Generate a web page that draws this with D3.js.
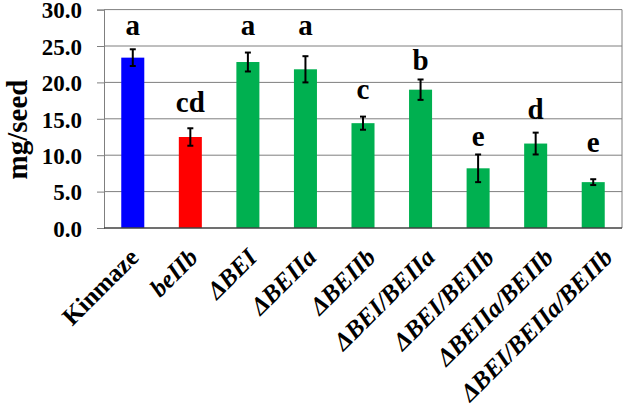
<!DOCTYPE html>
<html>
<head>
<meta charset="utf-8">
<script src="https://cdn.jsdelivr.net/npm/d3@7"></script>
<style>
  body { margin: 0; background: #fff; }
  svg text { font-family: "Liberation Serif" !important; font-weight: bold; }
</style>
</head>
<body>
<script>
var names = ["Kinmaze", "beIIb", "\u0394BEI", "\u0394BEIIa", "\u0394BEIIb", "\u0394BEI/BEIIa",
             "\u0394BEI/BEIIb", "\u0394BEIIa/BEIIb", "\u0394BEI/BEIIa/BEIIb"];
var values = [23.4, 12.5, 22.8, 21.8, 14.4, 19.0, 8.2, 11.6, 6.3];
var errors = [1.15, 1.2, 1.3, 1.8, 0.9, 1.4, 1.9, 1.5, 0.4];
var letters = ["a", "cd", "a", "a", "c", "b", "e", "d", "e"];
var letterAt = [26.5, 15.9, 26.5, 26.5, 17.7, 21.7, 11.2, 15.0, 10.5];
var colors = ["#0000ff", "#ff0000", "#00b050", "#00b050", "#00b050", "#00b050", "#00b050", "#00b050", "#00b050"];
var yTicks = [0, 5, 10, 15, 20, 25, 30];

var w = 626;
var h = 417;
var plotLeft = 104, plotRight = 622, plotTop = 9.6, plotBottom = 228;

var svg = d3.select("body").append("svg")
	.attr("width", w)
	.attr("height", h)
	.style("font-family", "Liberation Serif");

var xScale = d3.scaleBand()
	.domain(names)
	.range([plotLeft, plotRight])
	.paddingInner(0.6)
	.paddingOuter(0.3);

var yScale = d3.scaleLinear()
	.domain([0, 30])
	.range([plotBottom, plotTop]);

// label ends drift a bit right of the bar centres
var labelScale = d3.scalePoint()
	.domain(names)
	.range([140, 614]);

// gridlines
svg.append("g")
	.selectAll("line")
	.data(yTicks.slice(1))
	.enter()
	.append("line")
	.attr("x1", plotLeft)
	.attr("x2", plotRight)
	.attr("y1", function(d) { return yScale(d) })
	.attr("y2", function(d) { return yScale(d) })
	.attr("stroke", "#7f7f7f")
	.attr("stroke-width", 1);

// right border
svg.append("line")
	.attr("x1", plotRight).attr("x2", plotRight)
	.attr("y1", yScale(30)).attr("y2", yScale(0))
	.attr("stroke", "#7f7f7f");

// y axis
var yAxis = d3.axisLeft(yScale)
	.tickValues(yTicks)
	.tickSize(7)
	.tickPadding(15)
	.tickFormat(d3.format(".1f"));

var yg = svg.append("g")
	.attr("transform", "translate(" + plotLeft + ",0)")
	.call(yAxis);
yg.attr("font-family", null);
yg.select(".domain").attr("stroke", "#7f7f7f");
yg.selectAll(".tick line").attr("stroke", "#7f7f7f");
yg.selectAll(".tick text")
	.attr("fill", "#000")
	.attr("font-size", 23)
	.attr("dy", "0.36em");

// bars
svg.selectAll("rect.bar")
	.data(values)
	.enter()
	.append("rect")
	.attr("class", "bar")
	.attr("x", function(d, i) { return xScale(names[i]) })
	.attr("width", xScale.bandwidth())
	.attr("y", function(d) { return yScale(d) })
	.attr("height", function(d) { return yScale(0) - yScale(d) })
	.attr("fill", function(d, i) { return colors[i] });

// x axis line
svg.append("line")
	.attr("x1", plotLeft).attr("x2", plotRight)
	.attr("y1", yScale(0)).attr("y2", yScale(0))
	.attr("stroke", "#404040")
	.attr("stroke-width", 1.5);

// error bars
var eg = svg.append("g").attr("stroke", "#000").attr("stroke-width", 2);
values.forEach(function(v, i) {
	var cx = xScale(names[i]) + xScale.bandwidth() / 2;
	eg.append("line")
		.attr("x1", cx).attr("x2", cx)
		.attr("y1", yScale(v + errors[i])).attr("y2", yScale(v - errors[i]));
	eg.append("line")
		.attr("x1", cx - 3).attr("x2", cx + 3)
		.attr("y1", yScale(v + errors[i])).attr("y2", yScale(v + errors[i]));
	eg.append("line")
		.attr("x1", cx - 3).attr("x2", cx + 3)
		.attr("y1", yScale(v - errors[i])).attr("y2", yScale(v - errors[i]));
});

// significance letters
svg.selectAll("text.letter")
	.data(letters)
	.enter()
	.append("text")
	.attr("class", "letter")
	.attr("x", function(d, i) { return xScale(names[i]) + xScale.bandwidth() / 2 })
	.attr("y", function(d, i) { return yScale(letterAt[i]) })
	.attr("text-anchor", "middle")
	.attr("font-size", 29)
	.text(function(d) { return d });

// x labels, rotated
svg.selectAll("text.xlab")
	.data(names)
	.enter()
	.append("text")
	.attr("class", "xlab")
	.attr("transform", function(d) { return "translate(" + labelScale(d) + ",259) rotate(-45)" })
	.attr("text-anchor", "end")
	.attr("font-size", 25)
	.attr("font-style", function(d, i) { return i == 0 ? "normal" : "italic" })
	.text(function(d) { return d });

// y label
svg.append("text")
	.attr("transform", "rotate(-90)")
	.attr("x", -129.5)
	.attr("y", 27)
	.attr("text-anchor", "middle")
	.attr("font-size", 29)
	.text("mg/seed");
</script>
</body>
</html>
